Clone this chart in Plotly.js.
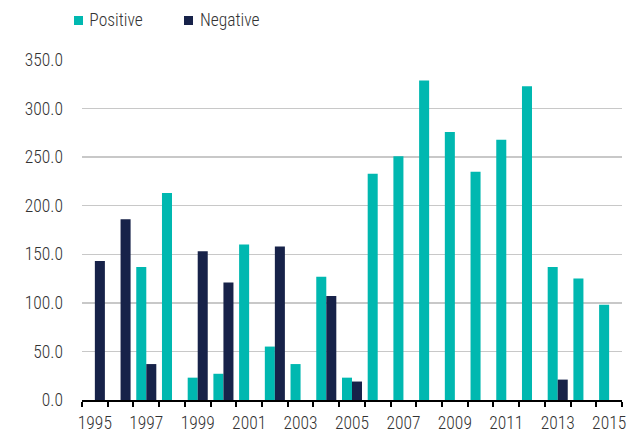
<!DOCTYPE html>
<html>
<head>
<meta charset="utf-8">
<script src="https://cdn.plot.ly/plotly-3.0.1.min.js"></script>
<style>html,body{margin:0;padding:0;background:#fff;}#chart{width:633px;height:434px;}
#chart text{font-stretch:75%;}</style>
</head>
<body>
<div id="chart"></div>
<script>
const years = [1995,1996,1997,1998,1999,2000,2001,2002,2003,2004,2005,2006,2007,2008,2009,2010,2011,2012,2013,2014,2015];
const positive = [null,null,137,213,23,27,160,55,37,127,23,233,251,329,276,235,268,323,137,125,98];
const negative = [143,186,37,null,153,121,null,158,null,107,19,null,null,null,null,null,null,null,21,null,null];
const tickYears = [1995,1997,1999,2001,2003,2005,2007,2009,2011,2013,2015];
const seriesNames = ['Positive','Negative'];
const colors = ['#00B8B0','#172249'];

const FONT = 'Roboto, "Open Sans", sans-serif';
const TEXT = '#333333';
const FS = 17.5;
const FW = 300;

const traces = [
  {type:'bar', name:seriesNames[0], x:years, y:positive, marker:{color:colors[0], line:{width:0}}},
  {type:'bar', name:seriesNames[1], x:years, y:negative, marker:{color:colors[1], line:{width:0}}}
];

const shapes = [], annotations = [];
const legendX = [74, 184];
seriesNames.forEach((n,i)=>{
  shapes.push({type:'rect', xref:'paper', yref:'paper', layer:'above',
    x0:(legendX[i]-82)/540, x1:(legendX[i]+9-82)/540,
    y0:(400-25)/340, y1:(400-16)/340, fillcolor:colors[i], line:{width:0}});
  annotations.push({xref:'paper', yref:'paper', x:(legendX[i]+10-82)/540, y:(400-20.5)/340,
    xanchor:'left', yanchor:'middle', showarrow:false, text:n,
    font:{family:FONT, size:FS, weight:FW, color:TEXT}});
});

const layout = {
  width:633, height:434,
  margin:{l:82, r:11, t:60, b:34, pad:0},
  paper_bgcolor:'#ffffff', plot_bgcolor:'#ffffff',
  font:{family:FONT, size:FS, weight:FW, color:TEXT},
  showlegend:false,
  barmode:'group', bargap:0.22, bargroupgap:0,
  xaxis:{
    type:'linear', range:[1994.5,2015.5],
    tickvals:tickYears, ticktext:tickYears.map(String),
    ticks:'', showgrid:false, zeroline:false,
    showline:true, linecolor:'#000000', linewidth:2,
    ticklabelstandoff:6,
    minor:{tick0:0.5, dtick:1, ticks:'outside', ticklen:5, tickwidth:2, tickcolor:'#000000', showgrid:false},
    tickfont:{family:FONT, size:FS, weight:FW, color:TEXT},
    fixedrange:true
  },
  yaxis:{
    range:[0,350], dtick:50, tick0:0, tickformat:'.1f',
    showgrid:true, gridcolor:'#c8c8c8', gridwidth:1.5,
    zeroline:false, showline:false, ticks:'',
    ticklabelstandoff:18,
    tickfont:{family:FONT, size:FS, weight:FW, color:TEXT},
    fixedrange:true
  },
  shapes:shapes, annotations:annotations
};

Plotly.newPlot('chart', traces, layout, {displayModeBar:false, staticPlot:true});
</script>
</body>
</html>
